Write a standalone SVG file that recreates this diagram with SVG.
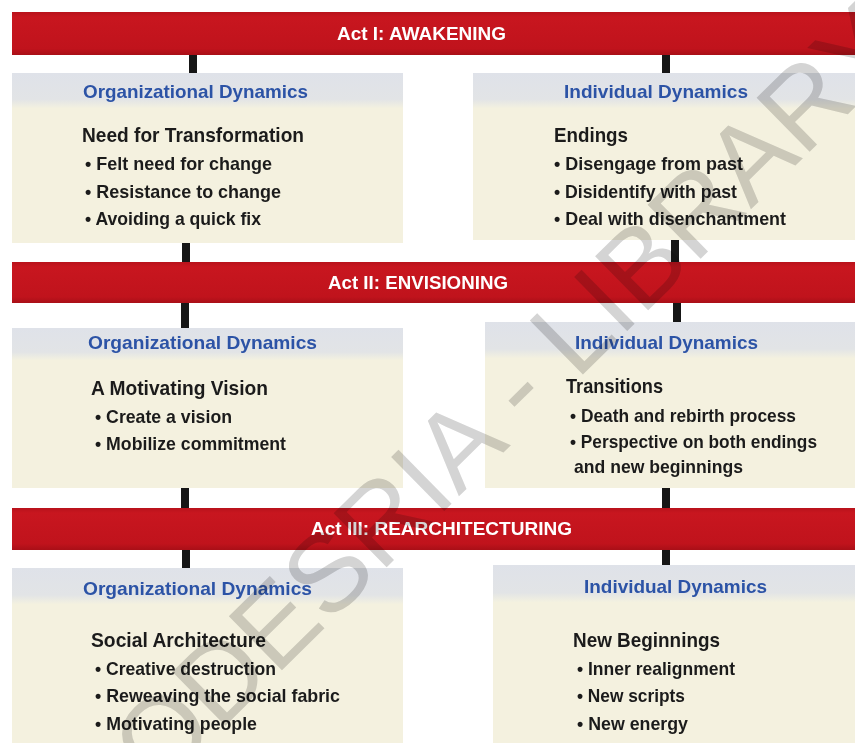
<svg xmlns="http://www.w3.org/2000/svg" width="855" height="743" viewBox="0 0 855 743">
  <defs>
    <linearGradient id="barFill" x1="0" y1="0" x2="0" y2="1">
      <stop offset="0" stop-color="#b8121b"/>
      <stop offset="0.12" stop-color="#c8161f"/>
      <stop offset="0.85" stop-color="#c0131c"/>
      <stop offset="1" stop-color="#a90f17"/>
    </linearGradient>
    <linearGradient id="headFill" x1="0" y1="0" x2="0" y2="1">
      <stop offset="0" stop-color="#dfe2e9"/>
      <stop offset="0.75" stop-color="#e2e4e6"/>
      <stop offset="1" stop-color="#f3f1e0"/>
    </linearGradient>
  </defs>
  <style>
    .bar { fill: url(#barFill); }
    .box { fill: #f4f1df; }
    .head { fill: url(#headFill); }
    text { font-family: "Liberation Sans", Arial, sans-serif; font-weight: bold; }
    .act { fill: #ffffff; font-size: 18px; }
    .dyn { fill: #2c53a6; font-size: 18.5px; }
    .sub { fill: #1b1b1b; font-size: 20.5px; }
    .item { fill: #1b1b1b; font-size: 19px; }
    .link { stroke: #161616; stroke-width: 8; }
    .mark { fill: #d4d4d4; font-family: "Liberation Sans", Arial, sans-serif; font-weight: normal; font-size: 110px; mix-blend-mode: multiply; }
  </style>

  <rect width="855" height="743" fill="#ffffff"/>

  <!-- connectors between the act bars and the panels -->
  <g id="connectors">
    <line class="link" x1="193" y1="55" x2="193" y2="73"/>
    <line class="link" x1="666" y1="55" x2="666" y2="73"/>
    <line class="link" x1="186" y1="243" x2="186" y2="262"/>
    <line class="link" x1="675" y1="240" x2="675" y2="262"/>
    <line class="link" x1="185" y1="303" x2="185" y2="328"/>
    <line class="link" x1="677" y1="303" x2="677" y2="322"/>
    <line class="link" x1="185" y1="488" x2="185" y2="508"/>
    <line class="link" x1="666" y1="488" x2="666" y2="508"/>
    <line class="link" x1="186" y1="550" x2="186" y2="568"/>
    <line class="link" x1="666" y1="550" x2="666" y2="565"/>
  </g>

  <!-- Act I -->
  <g id="act1">
    <rect class="bar" x="12" y="12" width="843" height="43"/>
    <text class="act" x="337" y="40" textLength="169" lengthAdjust="spacingAndGlyphs">Act I: AWAKENING</text>
  </g>

  <g id="org1">
    <rect class="box" x="12" y="73" width="391" height="170"/>
    <rect class="head" x="12" y="73" width="391" height="35"/>
    <text class="dyn" x="83" y="98" textLength="225" lengthAdjust="spacingAndGlyphs">Organizational Dynamics</text>
    <text class="sub" x="82" y="142" textLength="222" lengthAdjust="spacingAndGlyphs">Need for Transformation</text>
    <text class="item" x="85" y="170" textLength="187" lengthAdjust="spacingAndGlyphs">• Felt need for change</text>
    <text class="item" x="85" y="198" textLength="196" lengthAdjust="spacingAndGlyphs">• Resistance to change</text>
    <text class="item" x="85" y="225" textLength="176" lengthAdjust="spacingAndGlyphs">• Avoiding a quick fix</text>
  </g>

  <g id="ind1">
    <rect class="box" x="473" y="73" width="382" height="167"/>
    <rect class="head" x="473" y="73" width="382" height="35"/>
    <text class="dyn" x="564" y="98" textLength="184" lengthAdjust="spacingAndGlyphs">Individual Dynamics</text>
    <text class="sub" x="554" y="142" textLength="74" lengthAdjust="spacingAndGlyphs">Endings</text>
    <text class="item" x="554" y="170" textLength="189" lengthAdjust="spacingAndGlyphs">• Disengage from past</text>
    <text class="item" x="554" y="198" textLength="183" lengthAdjust="spacingAndGlyphs">• Disidentify with past</text>
    <text class="item" x="554" y="225" textLength="232" lengthAdjust="spacingAndGlyphs">• Deal with disenchantment</text>
  </g>

  <!-- Act II -->
  <g id="act2">
    <rect class="bar" x="12" y="262" width="843" height="41"/>
    <text class="act" x="328" y="289" textLength="180" lengthAdjust="spacingAndGlyphs">Act II: ENVISIONING</text>
  </g>

  <g id="org2">
    <rect class="box" x="12" y="328" width="391" height="160"/>
    <rect class="head" x="12" y="328" width="391" height="32"/>
    <text class="dyn" x="88" y="349" textLength="229" lengthAdjust="spacingAndGlyphs">Organizational Dynamics</text>
    <text class="sub" x="91" y="395" textLength="177" lengthAdjust="spacingAndGlyphs">A Motivating Vision</text>
    <text class="item" x="95" y="423" textLength="137" lengthAdjust="spacingAndGlyphs">• Create a vision</text>
    <text class="item" x="95" y="450" textLength="191" lengthAdjust="spacingAndGlyphs">• Mobilize commitment</text>
  </g>

  <g id="ind2">
    <rect class="box" x="485" y="322" width="370" height="166"/>
    <rect class="head" x="485" y="322" width="370" height="36"/>
    <text class="dyn" x="575" y="349" textLength="183" lengthAdjust="spacingAndGlyphs">Individual Dynamics</text>
    <text class="sub" x="566" y="393" textLength="97" lengthAdjust="spacingAndGlyphs">Transitions</text>
    <text class="item" x="570" y="422" textLength="226" lengthAdjust="spacingAndGlyphs">• Death and rebirth process</text>
    <text class="item" x="570" y="448" textLength="247" lengthAdjust="spacingAndGlyphs">• Perspective on both endings</text>
    <text class="item" x="574" y="473" textLength="169" lengthAdjust="spacingAndGlyphs">and new beginnings</text>
  </g>

  <!-- Act III -->
  <g id="act3">
    <rect class="bar" x="12" y="508" width="843" height="42"/>
    <text class="act" x="311" y="535" textLength="261" lengthAdjust="spacingAndGlyphs">Act III: REARCHITECTURING</text>
  </g>

  <g id="org3">
    <rect class="box" x="12" y="568" width="391" height="175"/>
    <rect class="head" x="12" y="568" width="391" height="36"/>
    <text class="dyn" x="83" y="595" textLength="229" lengthAdjust="spacingAndGlyphs">Organizational Dynamics</text>
    <text class="sub" x="91" y="647" textLength="175" lengthAdjust="spacingAndGlyphs">Social Architecture</text>
    <text class="item" x="95" y="675" textLength="181" lengthAdjust="spacingAndGlyphs">• Creative destruction</text>
    <text class="item" x="95" y="702" textLength="245" lengthAdjust="spacingAndGlyphs">• Reweaving the social fabric</text>
    <text class="item" x="95" y="730" textLength="162" lengthAdjust="spacingAndGlyphs">• Motivating people</text>
  </g>

  <g id="ind3">
    <rect class="box" x="493" y="565" width="362" height="178"/>
    <rect class="head" x="493" y="565" width="362" height="37"/>
    <text class="dyn" x="584" y="593" textLength="183" lengthAdjust="spacingAndGlyphs">Individual Dynamics</text>
    <text class="sub" x="573" y="647" textLength="147" lengthAdjust="spacingAndGlyphs">New Beginnings</text>
    <text class="item" x="577" y="675" textLength="158" lengthAdjust="spacingAndGlyphs">• Inner realignment</text>
    <text class="item" x="577" y="702" textLength="108" lengthAdjust="spacingAndGlyphs">• New scripts</text>
    <text class="item" x="577" y="730" textLength="111" lengthAdjust="spacingAndGlyphs">• New energy</text>
  </g>

  <!-- library stamp across the page -->
  <g id="stamp">
    <text class="mark" x="0" y="0" text-anchor="middle" transform="translate(506 450) rotate(-44.5)">CODESRIA - LIBRARY</text>
  </g>
</svg>
